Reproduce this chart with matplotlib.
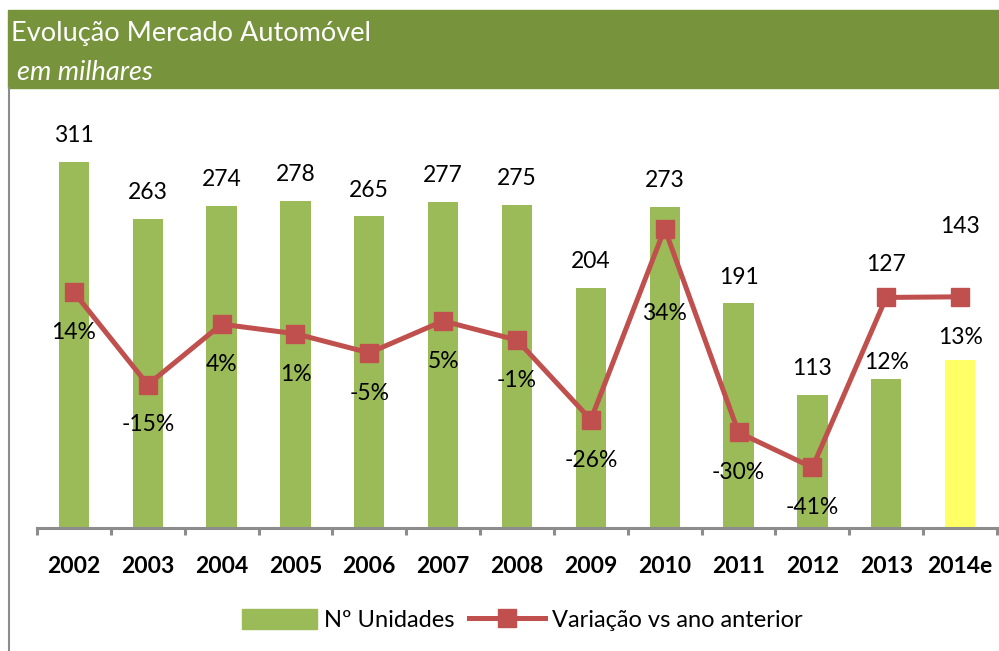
import numpy as np
import matplotlib
matplotlib.use("Agg")
import matplotlib.pyplot as plt
from matplotlib.patches import Rectangle
from matplotlib.lines import Line2D

plt.rcParams['font.family'] = ['Lato', 'DejaVu Sans']

# ── data ──────────────────────────────────────────────────────────────────────
years = ["2002", "2003", "2004", "2005", "2006", "2007", "2008",
         "2009", "2010", "2011", "2012", "2013", "2014e"]
units = [311, 263, 274, 278, 265, 277, 275, 204, 273, 191, 113, 127, 143]
change = [0.14, -0.15, 0.04, 0.01, -0.05, 0.05, -0.01,
          -0.26, 0.34, -0.30, -0.41, 0.124, 0.126]

GREEN = "#9BBB59"
YELLOW = "#FFFF66"
RED = "#C0504D"
HEADER = "#77933C"
GREY = "#8C8C8C"

# label offsets in points (bars above, line below); a few moved by hand
bar_off = {11: 82, 12: 96}
line_off = {8: 61, 11: 47}

fig = plt.figure(figsize=(9.99, 6.51), dpi=100)

# ── header band + frame ───────────────────────────────────────────────────────
fig.patches.append(Rectangle((8 / 999, 1 - 88 / 651), 1, 78 / 651,
                             transform=fig.transFigure, color=HEADER, zorder=0))
fig.add_artist(Line2D([8.5 / 999, 8.5 / 999], [0, 1 - 88 / 651],
                      transform=fig.transFigure, color=GREY, lw=1.5))
fig.text(11 / 999, 1 - 33 / 651, "Evolução Mercado Automóvel", color="white",
         fontsize=19.5, va="center", ha="left")
fig.text(17 / 999, 1 - 72 / 651, "em milhares", color="white",
         fontsize=19.5, style="italic", va="center", ha="left")

# ── axes ──────────────────────────────────────────────────────────────────────
ax = fig.add_axes([37 / 999, 1 - 528 / 651, 960 / 999, 428 / 651])
x = np.arange(len(years))
colors = [GREEN] * (len(years) - 1) + [YELLOW]
ax.bar(x, units, width=0.41, color=colors, zorder=1)
ax.set_xlim(-0.5, len(years) - 0.5)
ax.set_ylim(0, 364)

for s in ["top", "right", "left"]:
    ax.spines[s].set_visible(False)
ax.spines["bottom"].set_color(GREY)
ax.spines["bottom"].set_linewidth(2.2)
ax.set_yticks([])
ax.set_xticks(x)
ax.set_xticklabels(years, fontsize=16.5, fontweight="bold")
ax.tick_params(axis="x", which="major", length=0, pad=20)
ax.set_xticks(np.arange(-0.5, len(years)), minor=True)
ax.tick_params(axis="x", which="minor", length=5, width=2.2, color=GREY)

for i, v in enumerate(units):
    ax.annotate(str(v), (x[i], v), xytext=(0, bar_off.get(i, 19)),
                textcoords="offset points", ha="center", va="center",
                fontsize=16.5, zorder=5)

ax2 = ax.twinx()
ax2.plot(x, change, color=RED, lw=3.6, marker="s", markersize=13,
         markerfacecolor=RED, markeredgecolor=RED, zorder=3)
ax2.set_ylim(-0.60, 0.744)
ax2.axis("off")

for i, v in enumerate(change):
    ax2.annotate(f"{v:.0%}", (x[i], v), xytext=(0, -line_off.get(i, 29)),
                 textcoords="offset points", ha="center", va="center",
                 fontsize=16.5, zorder=5)

# ── legend ────────────────────────────────────────────────────────────────────
handles = [Rectangle((0, 0), 1, 1, color=GREEN),
           Line2D([], [], color=RED, lw=3.6, marker="s", markersize=13)]
fig.legend(handles, ["Nº Unidades", "Variação vs ano anterior"],
           loc="center", bbox_to_anchor=(522 / 999, 1 - 620 / 651), ncol=2,
           frameon=False, fontsize=17, handlelength=3.2, handleheight=0.9,
           columnspacing=0.6, handletextpad=0.3)

fig.savefig("out.png", dpi=100)
